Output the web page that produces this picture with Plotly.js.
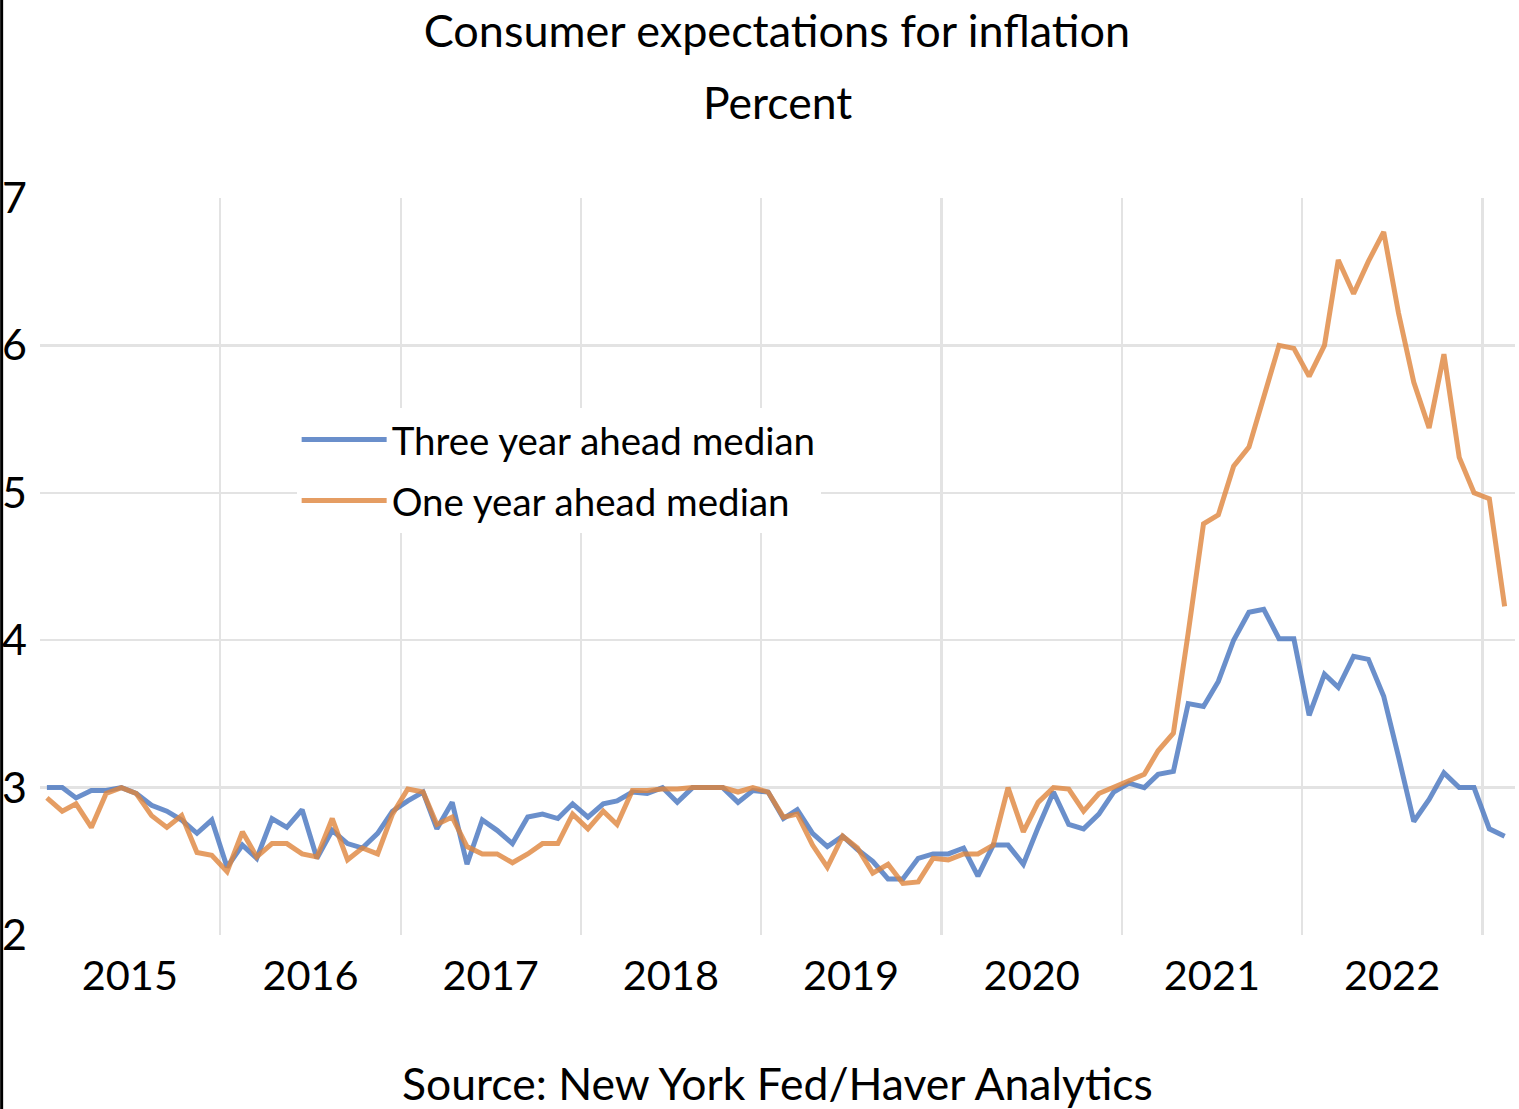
<!DOCTYPE html>
<html>
<head>
<meta charset="utf-8">
<script src="https://cdn.plot.ly/plotly-3.0.1.min.js"></script>
<style>html,body{margin:0;padding:0;background:#fff;}#chart{width:1519px;height:1109px;}</style>
</head>
<body>
<div id="chart"></div>
<script>
// Monthly survey months, Jan 2015 - Feb 2023
const startYear = 2015;
const monthCount = 98;
const months = [];
for (let i = 0; i < monthCount; i++) {
  const y = startYear + Math.floor(i / 12);
  const m = (i % 12) + 1;
  months.push(y + '-' + String(m).padStart(2, '0') + '-15');
}

// Three year ahead median (percent)
const threeYear = [
  3.00, 3.00, 2.93, 2.98, 2.98, 3.00, 2.96, 2.88, 2.84, 2.78, 2.69, 2.78,
  2.46, 2.61, 2.52, 2.79, 2.73, 2.85, 2.52, 2.71, 2.62, 2.59, 2.69, 2.84,
  2.91, 2.97, 2.72, 2.90, 2.48, 2.78, 2.71, 2.62, 2.80, 2.82, 2.79, 2.89,
  2.80, 2.89, 2.91, 2.97, 2.96, 3.00, 2.90, 3.00, 3.00, 3.00, 2.90, 2.98,
  2.97, 2.79, 2.85, 2.69, 2.60, 2.67, 2.58, 2.50, 2.38, 2.38, 2.52, 2.55,
  2.55, 2.59, 2.40, 2.61, 2.61, 2.48, 2.73, 2.97, 2.75, 2.72, 2.82, 2.97,
  3.03, 3.00, 3.09, 3.11, 3.57, 3.55, 3.72, 4.00, 4.19, 4.21, 4.01, 4.01,
  3.49, 3.77, 3.68, 3.89, 3.87, 3.62, 3.21, 2.77, 2.92, 3.10, 3.00, 3.00,
  2.72, 2.67
];

// One year ahead median (percent)
const oneYear = [
  2.93, 2.84, 2.89, 2.73, 2.96, 3.00, 2.96, 2.81, 2.73, 2.81, 2.56, 2.54,
  2.43, 2.70, 2.53, 2.62, 2.62, 2.55, 2.53, 2.79, 2.51, 2.59, 2.55, 2.82,
  2.99, 2.97, 2.75, 2.80, 2.60, 2.55, 2.55, 2.49, 2.55, 2.62, 2.62, 2.82,
  2.72, 2.84, 2.75, 2.98, 2.98, 2.99, 2.99, 3.00, 3.00, 3.00, 2.97, 3.00,
  2.97, 2.80, 2.82, 2.61, 2.46, 2.67, 2.59, 2.42, 2.48, 2.35, 2.36, 2.52,
  2.51, 2.55, 2.55, 2.61, 3.00, 2.70, 2.90, 3.00, 2.99, 2.84, 2.96, 3.00,
  3.05, 3.09, 3.25, 3.37, 4.05, 4.79, 4.85, 5.18, 5.31, 5.65, 6.00, 5.98,
  5.79, 6.00, 6.58, 6.35, 6.57, 6.77, 6.22, 5.75, 5.44, 5.94, 5.24, 5.00,
  4.96, 4.23
];

const yearLabels = ['2015', '2016', '2017', '2018', '2019', '2020', '2021', '2022'];
const yearLabelPos = yearLabels.map(y => y + '-07-02');
const yearBounds = ['2016', '2017', '2018', '2019', '2020', '2021', '2022', '2023'].map(y => y + '-01-01');
const yTicks = [2, 3, 4, 5, 6, 7];
const yGrid = [3, 4, 5, 6];
const xRange = ['2015-01-01', '2023-03-08'];

const FONT = 'Lato, "Open Sans", sans-serif';

const traces = [
  { x: [], y: [], xaxis: 'x', yaxis: 'y', showlegend: false, hoverinfo: 'skip', type: 'scatter', mode: 'lines' },
  {
    x: months, y: threeYear, xaxis: 'x2', yaxis: 'y2', type: 'scatter', mode: 'lines',
    name: 'Three year ahead median', legendgroup: 'a',
    line: { color: 'rgba(69,115,190,0.8)', width: 5 }
  },
  {
    x: months, y: oneYear, xaxis: 'x2', yaxis: 'y2', type: 'scatter', mode: 'lines',
    name: 'One year ahead median', legendgroup: 'b',
    line: { color: 'rgba(222,132,60,0.8)', width: 5 }
  }
];

const layout = {
  width: 1519, height: 1109,
  margin: { l: 40, r: 4, t: 198, b: 174 },
  paper_bgcolor: '#fff', plot_bgcolor: '#fff',
  font: { family: FONT, color: '#000' },
  title: {
    text: 'Consumer expectations for inflation',
    font: { family: FONT, size: 45, color: '#000' },
    x: 0.5115, xanchor: 'center', xref: 'container',
    y: 0.972, yanchor: 'middle', yref: 'container'
  },
  xaxis: {
    type: 'date', range: xRange, tickmode: 'array', tickvals: yearBounds,
    showticklabels: false, showgrid: true, gridcolor: '#e3e3e3', gridwidth: 2.5,
    zeroline: false, showline: false, ticks: ''
  },
  yaxis: {
    range: [2, 7], tickmode: 'array', tickvals: yGrid, showticklabels: false,
    showgrid: true, gridcolor: '#e3e3e3', gridwidth: 2.5, zeroline: false, showline: false, ticks: ''
  },
  xaxis2: {
    type: 'date', overlaying: 'x', anchor: 'y2', side: 'bottom', range: xRange,
    tickmode: 'array', tickvals: yearLabelPos, ticktext: yearLabels,
    showgrid: false, zeroline: false, showline: false, ticks: '',
    ticklabelstandoff: 12,
    tickfont: { family: FONT, size: 41.5, color: '#000' }
  },
  yaxis2: {
    overlaying: 'y', anchor: 'x2', side: 'left', range: [2, 7],
    tickmode: 'array', tickvals: yTicks, ticktext: yTicks.map(String),
    showgrid: false, zeroline: false, showline: false, ticks: '',
    ticklabelstandoff: 12,
    tickfont: { family: FONT, size: 43, color: '#000' }
  },
  legend: {
    x: 0.174, xanchor: 'left', y: 0.715, yanchor: 'top',
    bgcolor: '#fff', borderwidth: 0,
    font: { family: FONT, size: 38.5, color: '#000' },
    traceorder: 'grouped', tracegroupgap: 8, itemwidth: 85
  },
  annotations: [
    {
      text: 'Percent', showarrow: false, xref: 'paper', yref: 'paper',
      x: 0.5, xanchor: 'center', y: 1.1316, yanchor: 'middle',
      font: { family: FONT, size: 44.5, color: '#000' }
    },
    {
      text: 'Source: New York Fed/Haver Analytics', showarrow: false, xref: 'paper', yref: 'paper',
      x: 0.5, xanchor: 'center', y: -0.2008, yanchor: 'middle',
      font: { family: FONT, size: 44.5, color: '#000' }
    }
  ],
  shapes: [
    { type: 'line', xref: 'paper', yref: 'paper', x0: -0.026, x1: -0.026, y0: -0.3, y1: 1.3,
      line: { color: '#000', width: 3 } }
  ],
  showlegend: true
};

Plotly.newPlot('chart', traces, layout, { displayModeBar: false, staticPlot: true });
</script>
</body>
</html>
